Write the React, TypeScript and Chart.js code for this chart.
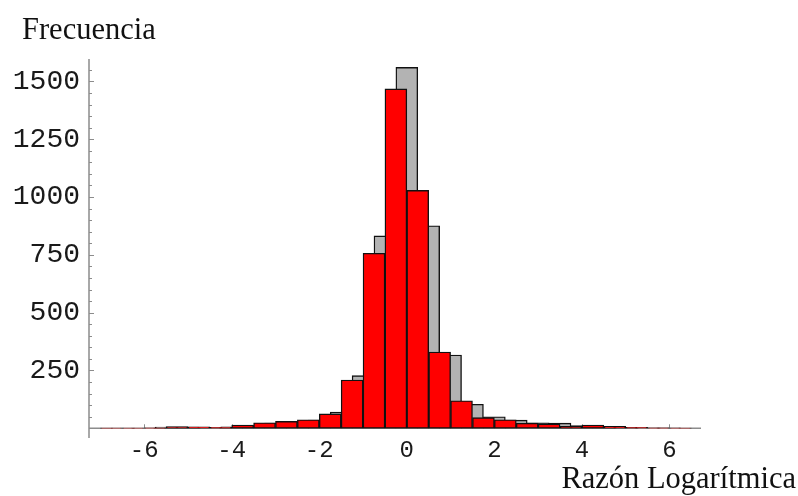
import React, { useEffect, useRef } from 'react';
import { Chart, registerables } from 'chart.js';

Chart.register(...registerables);

// Red histogram (bins of width 0.5, edges at multiples of 0.5)
const redCenters = [
  -6.75, -6.25, -5.75, -5.25, -4.75, -4.25, -3.75, -3.25, -2.75, -2.25, -1.75, -1.25, -0.75, -0.25,
  0.25, 0.75, 1.25, 1.75, 2.25, 2.75, 3.25, 3.75, 4.25, 4.75, 5.25, 5.75, 6.25,
];
const redCounts = [
  1, 1, 2, 7, 6, 4, 14, 24, 30, 37, 62, 209, 757, 1468,
  1029, 330, 119, 46, 37, 22, 19, 9, 14, 8, 4, 2, 1,
];

// Gray histogram (bins of width 0.5, centred on multiples of 0.5)
const grayCenters = [
  -6.5, -6, -5.5, -5, -4.5, -4, -3.5, -3, -2.5, -2, -1.5, -1, -0.5, 0,
  0.5, 1, 1.5, 2, 2.5, 3, 3.5, 4, 4.5, 5, 5.5, 6,
];
const grayCounts = [
  1, 1, 5, 5, 3, 6, 12, 22, 28, 35, 70, 228, 832, 1561,
  876, 317, 104, 50, 35, 24, 22, 12, 8, 4, 2, 2,
];

const xTickValues = [-6, -4, -2, 0, 2, 4, 6];
const yTickValues = [250, 500, 750, 1000, 1250, 1500];
const yMinorStep = 50;

const yTitle = 'Frecuencia';
const xTitle = 'Razón Logarítmica';

const X_MIN = -7.26;
const X_MAX = 6.72;
const Y_MIN = -42;
const Y_MAX = 1597;

const AXIS_COLOR = '#8c8c8c';

const mathAxesPlugin = {
  id: 'mathAxes',
  beforeDatasetsDraw(chart: any) {
    const { ctx, chartArea } = chart;
    const xs = chart.scales.x;
    const ys = chart.scales.y;
    const y0 = ys.getPixelForValue(0);
    ctx.save();
    ctx.strokeStyle = AXIS_COLOR;
    ctx.lineWidth = 1.5;
    ctx.beginPath();
    ctx.moveTo(chartArea.left, chartArea.top);
    ctx.lineTo(chartArea.left, chartArea.bottom);
    ctx.moveTo(chartArea.left, y0);
    ctx.lineTo(chartArea.right, y0);
    ctx.stroke();

    ctx.lineWidth = 1;
    ctx.beginPath();
    for (let v = yMinorStep; v < Y_MAX; v += yMinorStep) {
      const p = Math.round(ys.getPixelForValue(v)) + 0.5;
      const len = yTickValues.includes(v) ? 5 : 3;
      ctx.moveTo(chartArea.left, p);
      ctx.lineTo(chartArea.left + len, p);
    }
    for (const v of xTickValues) {
      const p = Math.round(xs.getPixelForValue(v)) + 0.5;
      ctx.moveTo(p, y0);
      ctx.lineTo(p, y0 - 4);
    }
    ctx.stroke();
    ctx.restore();
  },
  afterDraw(chart: any) {
    const { ctx, width, height } = chart;
    ctx.save();
    ctx.fillStyle = '#111';
    ctx.font = '30.5px "Liberation Serif", "Times New Roman", serif';
    ctx.textBaseline = 'alphabetic';
    ctx.textAlign = 'left';
    ctx.fillText(yTitle, 22, 38.5);
    ctx.textAlign = 'right';
    ctx.fillText(xTitle, width - 2, height - 8);
    ctx.restore();
  },
};

export default function App() {
  const canvasRef = useRef<HTMLCanvasElement | null>(null);

  useEffect(() => {
    if (!canvasRef.current) return;
    const chart = new Chart(canvasRef.current, {
      type: 'bar',
      data: {
        datasets: [
          {
            label: 'red',
            data: redCenters.map((x, i) => ({ x, y: redCounts[i] })),
            backgroundColor: '#ff0000',
            borderColor: '#111111',
            borderWidth: 1.4,
            xAxisID: 'x',
            yAxisID: 'y',
            grouped: false,
            barPercentage: 1,
            categoryPercentage: 1,
            borderSkipped: false,
          },
          {
            label: 'gray',
            data: grayCenters.map((x, i) => ({ x, y: grayCounts[i] })),
            backgroundColor: '#b3b3b3',
            borderColor: '#111111',
            borderWidth: 1.4,
            xAxisID: 'x2',
            yAxisID: 'y',
            grouped: false,
            barPercentage: 1,
            categoryPercentage: 1,
            borderSkipped: false,
          },
        ],
      } as any,
      options: {
        animation: false,
        responsive: false,
        maintainAspectRatio: false,
        layout: { padding: { top: 59, right: 97, left: 0, bottom: 0 } },
        plugins: {
          legend: { display: false },
          tooltip: { enabled: false },
          title: { display: false },
        },
        scales: {
          x: {
            type: 'linear',
            min: X_MIN,
            max: X_MAX,
            offset: false,
            grid: { display: false, drawTicks: false },
            border: { display: false },
            afterBuildTicks: (s: any) => {
              s.ticks = xTickValues.map((v) => ({ value: v }));
            },
            afterFit: (s: any) => {
              s.height = 58;
            },
            ticks: {
              autoSkip: false,
              maxRotation: 0,
              padding: -2,
              color: '#1a1a1a',
              font: { family: '"Liberation Mono", "Courier New", monospace', size: 24 },
              callback: (v: any) => String(v),
            },
          },
          x2: {
            type: 'linear',
            display: false,
            min: X_MIN,
            max: X_MAX,
            offset: false,
          },
          y: {
            type: 'linear',
            min: Y_MIN,
            max: Y_MAX,
            grid: { display: false, drawTicks: false },
            border: { display: false },
            afterBuildTicks: (s: any) => {
              s.ticks = yTickValues.map((v) => ({ value: v }));
            },
            afterFit: (s: any) => {
              s.width = 89;
            },
            ticks: {
              autoSkip: false,
              padding: 9,
              color: '#1a1a1a',
              font: { family: '"Liberation Mono", "Courier New", monospace', size: 28 },
              callback: (v: any) => String(v),
            },
          },
        },
      } as any,
      plugins: [mathAxesPlugin],
    });
    return () => chart.destroy();
  }, []);

  return (
    <div style={{ position: 'absolute', left: 0, top: 0, width: 798, height: 496, background: '#fff' }}>
      <canvas ref={canvasRef} width={798} height={496} style={{ display: 'block' }} />
    </div>
  );
}
